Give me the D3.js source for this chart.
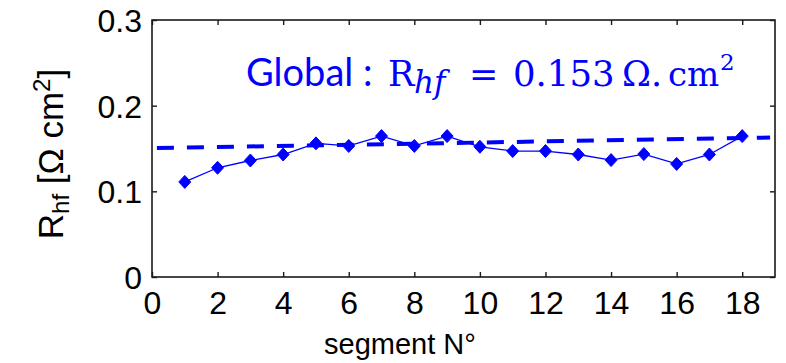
<!DOCTYPE html>
<html>
<head>
<meta charset="utf-8">
<script src="https://cdn.jsdelivr.net/npm/d3@7"></script>
<style>
  html, body { margin: 0; padding: 0; background: #fff; }
  svg { display: block; }
</style>
</head>
<body>
<svg id="chart" width="786" height="363"></svg>
<script>
// ---- data ----
const segments = [1, 2, 3, 4, 5, 6, 7, 8, 9, 10, 11, 12, 13, 14, 15, 16, 17, 18];
const rhf = [0.111, 0.1275, 0.136, 0.143, 0.156, 0.153, 0.1645, 0.153, 0.1645,
             0.152, 0.147, 0.147, 0.143, 0.1365, 0.1435, 0.132, 0.143, 0.1645];
const fitX = [0.15, 18.85];
const fitY = [0.1505, 0.1628];
const xTicks = [0, 2, 4, 6, 8, 10, 12, 14, 16, 18];
const yTicks = [0, 0.1, 0.2, 0.3];
const yTickLabels = ["0", "0.1", "0.2", "0.3"];
const xDomain = [0, 19];
const yDomain = [0, 0.3];

// ---- layout ----
const mLeft = 152, mRight = 775, mTop = 20, mBottom = 277;
const blue = "#0000ff";
const svg = d3.select("#chart");

const x = d3.scaleLinear().domain(xDomain).range([mLeft, mRight]);
const y = d3.scaleLinear().domain(yDomain).range([mBottom, mTop]);

const tickFont = "'Liberation Sans', Arial, sans-serif";

// frame
svg.append("rect")
  .attr("x", mLeft).attr("y", mTop)
  .attr("width", mRight - mLeft).attr("height", mBottom - mTop)
  .attr("fill", "none").attr("stroke", "#1a1a1a").attr("stroke-width", 1.6);

// axes (ticks inside)
const tl = 5;
const xb = svg.append("g").attr("transform", `translate(0,${mBottom})`)
  .call(d3.axisBottom(x).tickValues(xTicks).tickSizeInner(-tl).tickSizeOuter(0).tickPadding(14).tickFormat(d3.format("d")));
const xt = svg.append("g").attr("transform", `translate(0,${mTop})`)
  .call(d3.axisTop(x).tickValues(xTicks).tickSizeInner(-tl).tickSizeOuter(0).tickFormat(""));
const yl = svg.append("g").attr("transform", `translate(${mLeft},0)`)
  .call(d3.axisLeft(y).tickValues(yTicks).tickSizeInner(-tl).tickSizeOuter(0).tickPadding(10)
    .tickFormat((d, i) => yTickLabels[i]));
const yr = svg.append("g").attr("transform", `translate(${mRight},0)`)
  .call(d3.axisRight(y).tickValues(yTicks).tickSizeInner(-tl).tickSizeOuter(0).tickFormat(""));

[xb, xt, yl, yr].forEach(g => {
  g.select(".domain").remove();
  g.selectAll("line").attr("stroke", "#1a1a1a").attr("stroke-width", 1.4);
  g.selectAll("text").attr("font-family", tickFont).attr("font-size", 32).attr("fill", "#000");
});
xb.selectAll("text").attr("dy", "0.71em");
yl.selectAll("text").attr("dy", "0.36em");

// fit dashed line
const fitData = fitX.map((d, i) => [d, fitY[i]]);
svg.append("path")
  .datum(fitData)
  .attr("d", d3.line().x(d => x(d[0])).y(d => y(d[1])))
  .attr("fill", "none").attr("stroke", blue).attr("stroke-width", 4)
  .attr("stroke-dasharray", "17,13");

// data line
const pts = segments.map((s, i) => [s, rhf[i]]);
svg.append("path")
  .datum(pts)
  .attr("d", d3.line().x(d => x(d[0])).y(d => y(d[1])))
  .attr("fill", "none").attr("stroke", blue).attr("stroke-width", 1.3);

// diamond markers
svg.append("g").selectAll("path")
  .data(pts).join("path")
  .attr("transform", d => `translate(${x(d[0])},${y(d[1])})`)
  .attr("d", "M0,-6.5L6,0L0,6.5L-6,0Z")
  .attr("fill", blue).attr("stroke", blue).attr("stroke-width", 1);

// x label
svg.append("text")
  .attr("x", 400).attr("y", 354)
  .attr("text-anchor", "middle")
  .attr("font-family", tickFont).attr("font-size", 29)
  .text("segment N°");

// y label
const ylab = svg.append("text")
  .attr("transform", "translate(63,154) rotate(-90)")
  .attr("text-anchor", "middle")
  .attr("font-family", tickFont).attr("font-size", 35);
ylab.append("tspan").text("R");
ylab.append("tspan").attr("font-size", 24).attr("dy", 6).text("hf");
ylab.append("tspan").attr("dy", -6).text(" [Ω cm");
ylab.append("tspan").attr("font-size", 24).attr("dy", -13).text("2");
ylab.append("tspan").attr("dy", 13).text("]");

// annotation
const serif = "'DejaVu Serif', 'Liberation Serif', serif";
const ann = svg.append("text").attr("y", 86).attr("fill", blue);
ann.append("tspan").attr("x", 246).attr("font-family", "Lato, 'Open Sans', sans-serif").attr("font-size", 38).text("Global :");
ann.append("tspan").attr("x", 388).attr("font-family", serif).attr("font-size", 35).text("R");
ann.append("tspan").attr("x", 414).attr("y", 93).attr("font-family", serif).attr("font-style", "italic").attr("font-size", 31).text("hf");
ann.append("tspan").attr("x", 469).attr("y", 86).attr("font-family", serif).attr("font-size", 35).text("=");
ann.append("tspan").attr("x", 513).attr("font-family", serif).attr("font-size", 35.5).text("0.153");
ann.append("tspan").attr("x", 622).attr("font-family", serif).attr("font-size", 35).text("Ω.");
ann.append("tspan").attr("x", 668).attr("font-family", serif).attr("font-size", 34).text("cm");
ann.append("tspan").attr("x", 720).attr("y", 70).attr("font-family", serif).attr("font-size", 23).text("2");
</script>
</body>
</html>
